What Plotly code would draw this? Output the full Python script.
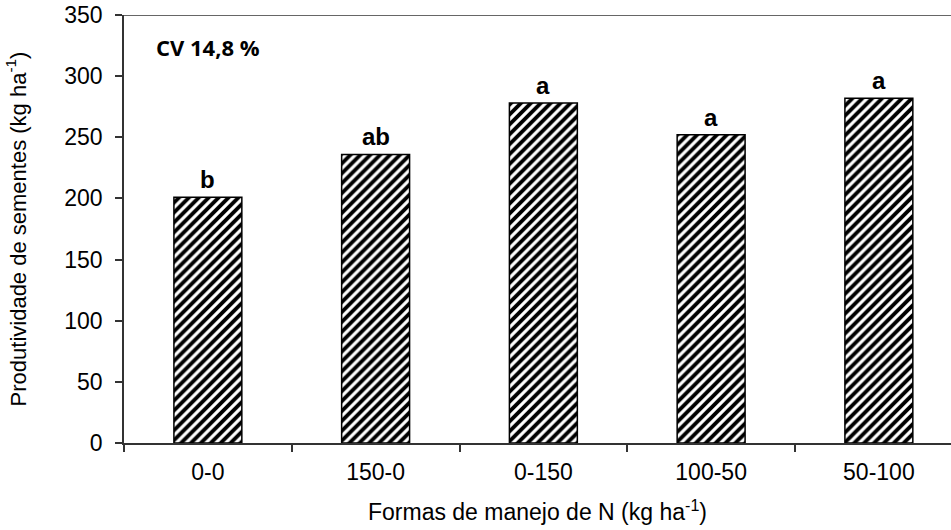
import plotly.graph_objects as go

categories = ["0-0", "150-0", "0-150", "100-50", "50-100"]
values = [201, 236, 278, 252, 282]
letters = ["b", "ab", "a", "a", "a"]
y_ticks = [0, 50, 100, 150, 200, 250, 300, 350]

xpos = list(range(len(categories)))

fig = go.Figure()
fig.add_trace(go.Bar(
    x=xpos, y=values, width=0.405,
    marker=dict(color="white", line=dict(color="black", width=1.5),
                pattern=dict(shape="/", fgcolor="black", bgcolor="white",
                             size=7, solidity=0.55, fgopacity=1)),
    hoverinfo="skip"))

for xi, v, t in zip(xpos, values, letters):
    fig.add_annotation(x=xi, y=v, text="<b>%s</b>" % t, showarrow=False,
                       yanchor="bottom", yshift=2,
                       font=dict(family="Liberation Sans, Arial", size=24, color="black"))

fig.add_annotation(x=0.036, xref="paper", y=0.925, yref="paper", text="<b>CV 14,8 %</b>",
                   showarrow=False, xanchor="left", yanchor="middle",
                   font=dict(family="Open Sans", size=22, color="black"))

fig.add_shape(type="line", xref="x", yref="y", x0=-0.5, x1=4.45, y0=350, y1=350,
              line=dict(color="#333", width=1.5))

fig.update_layout(
    width=951, height=530,
    margin=dict(l=124, r=0, t=15, b=87),
    plot_bgcolor="white", paper_bgcolor="white",
    showlegend=False,
    font=dict(family="Liberation Sans, Arial", size=23, color="black"),
    xaxis=dict(range=[-0.5, 4.43], tickvals=xpos, ticktext=categories,
               ticks="", showgrid=False, zeroline=False,
               showline=True, linecolor="#333", linewidth=1.5,
               tickfont=dict(size=23), ticklabelstandoff=8,
               minor=dict(tickvals=[-0.5, 0.5, 1.5, 2.5, 3.5], ticks="outside",
                          ticklen=7, tickcolor="#333", tickwidth=1.5, showgrid=False),
               title=dict(text="Formas de manejo de N (kg ha<sup>-1</sup>)",
                          font=dict(size=23), standoff=20)),
    yaxis=dict(range=[0, 350], tickvals=y_ticks, ticks="outside", ticklen=7,
               tickcolor="#333", tickwidth=1.5, showgrid=False, zeroline=False,
               showline=True, linecolor="#333", linewidth=1.5,
               tickfont=dict(size=23), ticklabelstandoff=8,
               title=dict(text="Produtividade de sementes (kg ha<sup>-1</sup>)",
                          font=dict(size=22), standoff=32)),
)

fig.write_html("out.html", config={"displayModeBar": False},
               post_script="document.body.style.margin='0';")
